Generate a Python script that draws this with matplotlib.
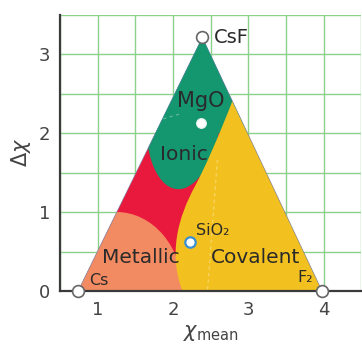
import matplotlib
matplotlib.use("Agg")
import matplotlib.pyplot as plt
from matplotlib.patches import Polygon, Ellipse, PathPatch, Rectangle
from matplotlib.path import Path

# ---- data (chi_mean, delta_chi) ----
point_names = ["Cs", "F\u2082", "CsF", "MgO", "SiO\u2082"]
chi_mean = [0.74, 3.98, 2.39, 2.37, 2.22]
delta_chi = [0.00, 0.00, 3.21, 2.13, 0.62]

region_names = ["Metallic", "Covalent", "Ionic"]
region_label_x = [1.57, 3.10, 2.14]
region_label_y = [0.35, 0.35, 1.66]

# region boundaries (data units)
metallic_center = (1.25, 0.0)
metallic_size = (1.76, 2.0)
ionic_center = (2.15, 2.285)
ionic_size = (2.0, 1.0)
ionic_angle = 84
ionic_floor = 2.0
covalent_bx = [2.17, 1.90, 2.087, 2.287, 2.42, 2.62, 2.82]
covalent_by = [-0.10, 0.45, 0.964, 1.316, 1.55, 1.98, 2.48]

xticks = [1, 2, 3, 4]
yticks = [0, 1, 2, 3]

GREEN = "#14966f"
RED = "#e8193d"
SALMON = "#f28b62"
YELLOW = "#f3c11f"
GRID = "#8ad18a"
TXT = "#2a2a2a"

fig = plt.figure(figsize=(3.62, 3.45), dpi=100)
ax = fig.add_axes([60 / 362, 54 / 345, 301.2 / 362, 276.5 / 345])
ax.set_xlim(0.5, 4.5)
ax.set_ylim(0, 3.5)

ax.set_xticks(xticks)
ax.set_yticks(yticks)
ax.set_xticks([v + 0.5 for v in [0] + xticks], minor=True)
ax.set_yticks([v + 0.5 for v in yticks], minor=True)
ax.grid(True, which="both", color=GRID, lw=1.0)
ax.set_axisbelow(True)
ax.tick_params(which="both", length=0)
ax.tick_params(axis="x", pad=7, labelsize=13, labelcolor="#444444")
ax.tick_params(axis="y", pad=7, labelsize=13, labelcolor="#444444")

for s in ["top", "right"]:
    ax.spines[s].set_visible(False)
for s in ["left", "bottom"]:
    ax.spines[s].set_color("#3a3a3a")
    ax.spines[s].set_linewidth(1.6)
    ax.spines[s].set_zorder(6)

# triangle (Cs, F2, CsF)
tri_xy = [(chi_mean[0], delta_chi[0]), (chi_mean[1], delta_chi[1]), (chi_mean[2], delta_chi[2])]
tri = Polygon(tri_xy, closed=True, facecolor=RED, edgecolor="none", zorder=1)
ax.add_patch(tri)

# ionic region
ion = Ellipse(ionic_center, ionic_size[0], ionic_size[1], angle=ionic_angle,
              facecolor=GREEN, edgecolor="none", zorder=2)
ax.add_patch(ion)
ion.set_clip_path(tri)
ion_top = Rectangle((0.5, ionic_floor), 4.0, 3.5 - ionic_floor, facecolor=GREEN,
                    edgecolor="none", zorder=2)
ax.add_patch(ion_top)
ion_top.set_clip_path(tri)

# metallic region
met = Ellipse(metallic_center, metallic_size[0], metallic_size[1],
              facecolor=SALMON, edgecolor="none", zorder=3)
ax.add_patch(met)
met.set_clip_path(tri)

# covalent region
verts = list(zip(covalent_bx, covalent_by))
verts += [(4.4, covalent_by[-1]), (4.4, covalent_by[0]), verts[0]]
codes = [Path.MOVETO] + [Path.CURVE4] * 6 + [Path.LINETO, Path.LINETO, Path.CLOSEPOLY]
cov = PathPatch(Path(verts, codes), facecolor=YELLOW, edgecolor="none", zorder=4)
ax.add_patch(cov)
cov.set_clip_path(tri)

# faint outline
outline = Polygon(tri_xy, closed=True, facecolor="none", edgecolor="#5b8db8",
                  lw=0.6, alpha=0.6, zorder=5)
ax.add_patch(outline)

# faint white dashed guides
ax.plot([2.59, 2.46], [1.66, 0.02], color="white", lw=0.8, ls=(0, (3, 3)), alpha=0.35, zorder=5)
ax.plot([1.70, 2.12], [2.13, 2.25], color="white", lw=0.8, ls=(0, (3, 3)), alpha=0.35, zorder=5)

# region labels
for name, x, y in zip(region_names, region_label_x, region_label_y):
    ax.text(x, y, name, ha="center", va="baseline", fontsize=14.5, color=TXT, zorder=7)

# point markers
ax.plot(chi_mean[:3], delta_chi[:3], ls="none", marker="o", ms=8.5, mfc="white",
        mec="#666666", mew=1.2, zorder=8, clip_on=False)
ax.plot([chi_mean[3]], [delta_chi[3]], ls="none", marker="o", ms=7, mfc="white",
        mec="#e8f4ee", mew=0.8, zorder=8)
ax.plot([chi_mean[4]], [delta_chi[4]], ls="none", marker="o", ms=7.5, mfc="white",
        mec="#3a8fd0", mew=1.6, zorder=8)

# point labels
ax.text(0.89, 0.076, point_names[0], ha="left", va="baseline", fontsize=11.5, color=TXT, zorder=7)
ax.text(3.655, 0.11, point_names[1], ha="left", va="baseline", fontsize=11.5, color=TXT, zorder=7)
ax.text(2.55, 3.21, point_names[2], ha="left", va="center", fontsize=14, color=TXT, zorder=7)
ax.text(2.37, 2.33, point_names[3], ha="center", va="baseline", fontsize=15, color=TXT, zorder=7)
ax.text(2.31, 0.71, point_names[4], ha="left", va="baseline", fontsize=11.5, color=TXT, zorder=7)

ax.set_xlabel(r"$\chi_{\mathrm{mean}}$", fontsize=15, color="#444444", labelpad=3)
ax.set_ylabel(r"$\Delta\chi$", fontsize=15, color="#444444", labelpad=4)

fig.savefig("out.png", dpi=100)
